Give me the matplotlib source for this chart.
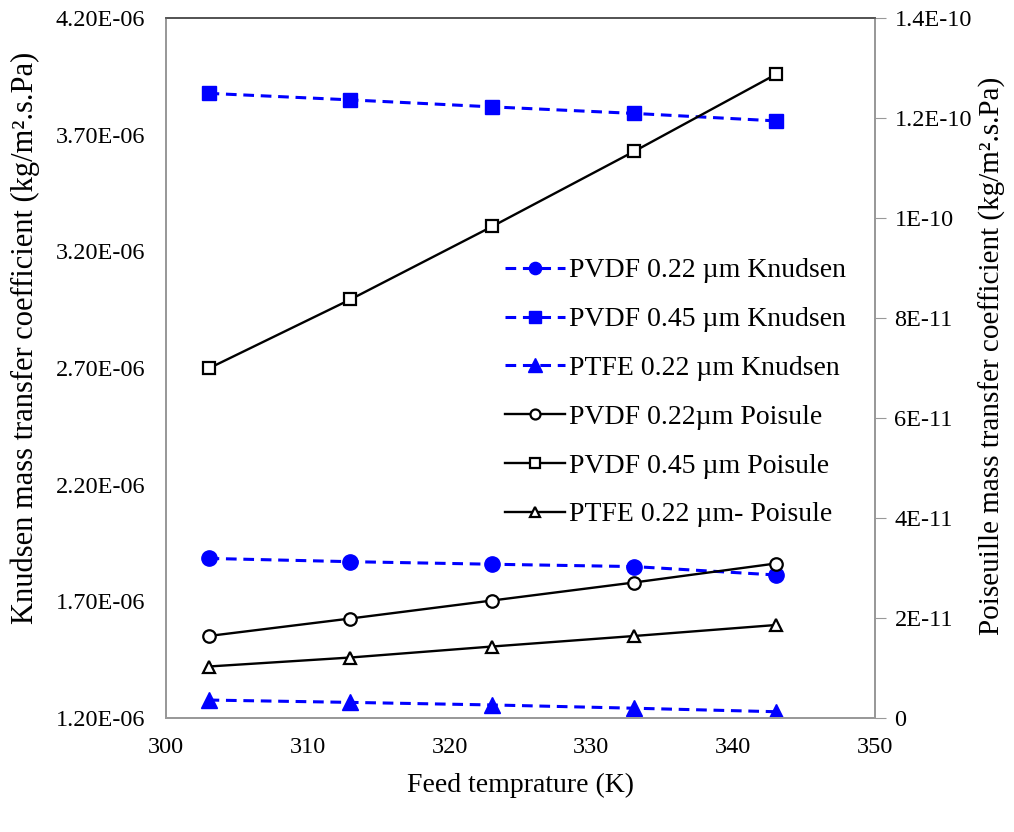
import matplotlib.pyplot as plt
from matplotlib.ticker import FixedLocator, FuncFormatter

plt.rcParams['font.family'] = ['Liberation Serif', 'DejaVu Serif']

# feed temperature (K)
temp = [303, 313, 323, 333, 343]

# Knudsen mass transfer coefficients (kg/m2.s.Pa), left axis
pvdf22_knudsen = [1.884e-06, 1.870e-06, 1.859e-06, 1.849e-06, 1.813e-06]
pvdf45_knudsen = [3.877e-06, 3.849e-06, 3.819e-06, 3.791e-06, 3.759e-06]
ptfe22_knudsen = [1.277e-06, 1.267e-06, 1.256e-06, 1.242e-06, 1.227e-06]

# Poiseuille mass transfer coefficients (kg/m2.s.Pa), right axis
pvdf22_poise = [1.64e-11, 1.99e-11, 2.35e-11, 2.71e-11, 3.09e-11]
pvdf45_poise = [6.99e-11, 8.37e-11, 9.83e-11, 11.33e-11, 12.87e-11]
ptfe22_poise = [1.03e-11, 1.21e-11, 1.43e-11, 1.64e-11, 1.86e-11]

left_ticks = [1.2e-06, 1.7e-06, 2.2e-06, 2.7e-06, 3.2e-06, 3.7e-06, 4.2e-06]
right_ticks = [0, 2e-11, 4e-11, 6e-11, 8e-11, 1e-10, 1.2e-10, 1.4e-10]
right_labels = ['0', '2E-11', '4E-11', '6E-11', '8E-11', '1E-10', '1.2E-10', '1.4E-10']

fig = plt.figure(figsize=(10.14, 8.32), dpi=100)
ax = fig.add_axes([0.1637, 0.137, 0.6992, 0.8414])
ax2 = ax.twinx()

blue = '#0000FF'
dash = dict(color=blue, linestyle=(0, (3.5, 2.2)), linewidth=2.2)
solid = dict(color='black', linewidth=1.7, markerfacecolor='white',
             markeredgecolor='black', markeredgewidth=1.6)

h1, = ax.plot(temp, pvdf22_knudsen, marker='o', markersize=11, label='PVDF 0.22 \u00b5m Knudsen', **dash)
h2, = ax.plot(temp, pvdf45_knudsen, marker='s', markersize=10, label='PVDF 0.45 \u00b5m Knudsen', **dash)
h3, = ax.plot(temp, ptfe22_knudsen, marker='^', markersize=12, label='PTFE 0.22 \u00b5m Knudsen', **dash)
h4, = ax2.plot(temp, pvdf22_poise, marker='o', markersize=9, label='PVDF 0.22\u00b5m Poisule', **solid)
h5, = ax2.plot(temp, pvdf45_poise, marker='s', markersize=9, label='PVDF 0.45 \u00b5m Poisule', **solid)
h6, = ax2.plot(temp, ptfe22_poise, marker='^', markersize=9, label='PTFE 0.22 \u00b5m- Poisule', **solid)

ax.set_xlim(300, 350)
ax.set_ylim(1.2e-06, 4.2e-06)
ax2.set_ylim(0, 1.4e-10)
ax.set_xticks([300, 310, 320, 330, 340, 350])
ax.yaxis.set_major_locator(FixedLocator(left_ticks))
ax.yaxis.set_major_formatter(FuncFormatter(lambda v, p: f'{v:.2E}'))
ax2.yaxis.set_major_locator(FixedLocator(right_ticks))
ax2.set_yticklabels(right_labels)

ax.tick_params(axis='x', length=0, pad=14, labelsize=17.5)
ax.tick_params(axis='y', length=0, pad=15, labelsize=17.5)
ax2.tick_params(axis='y', direction='out', length=8, color='#999999', pad=6, labelsize=17.5)

for a in (ax, ax2):
    for side in ('left', 'bottom', 'right'):
        a.spines[side].set_color('#999999')
        a.spines[side].set_linewidth(1.3)
    a.spines['top'].set_color('#555555')
    a.spines['top'].set_linewidth(1.3)

ax.set_xlabel('Feed temprature (K)', fontsize=20, labelpad=10)
ax.set_ylabel('Knudsen mass transfer coefficient (kg/m\u00b2.s.Pa)', fontsize=22)
ax.yaxis.set_label_coords(-0.178, 0.543)
ax2.set_ylabel('Poiseuille mass transfer coefficient (kg/m\u00b2.s.Pa)', fontsize=21, rotation=90)
ax2.yaxis.set_label_coords(1.1467, 0.517)

ax2.legend(handles=[h1, h2, h3, h4, h5, h6], loc='upper left',
           bbox_to_anchor=(505 / 1014, 1 - 258 / 832), bbox_transform=fig.transFigure,
           frameon=False, fontsize=20, handlelength=2.15, handletextpad=0.15,
           labelspacing=0.84, borderpad=0, borderaxespad=0, markerscale=0.8)

fig.savefig('out.png', dpi=100)
